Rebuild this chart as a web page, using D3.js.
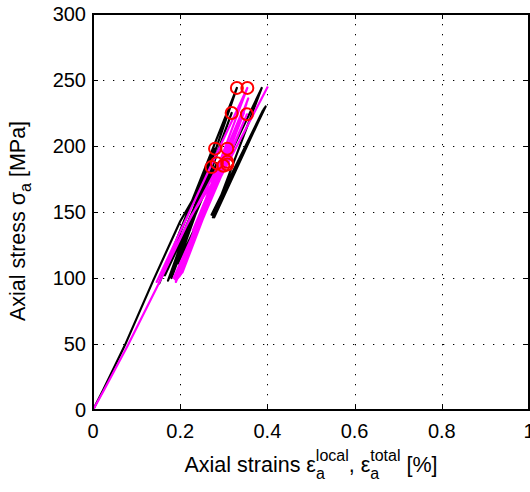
<!DOCTYPE html>
<html>
<head>
<meta charset="utf-8">
<script src="https://cdnjs.cloudflare.com/ajax/libs/d3/7.8.5/d3.min.js"></script>
<style>
  body { margin: 0; background: #fff; }
  svg text { font-family: "Liberation Sans", Arial, Helvetica, sans-serif; }
</style>
</head>
<body>
<div id="chart"></div>
<script>
// local strain path (black): initial loading then unload/reload cycles
const localStrain = [0, 0.023, 0.073, 0.138, 0.2, 0.272,
  0.165, 0.284, 0.172, 0.280, 0.152, 0.330,
  0.18, 0.318, 0.195, 0.387,
  0.275, 0.394, 0.278, 0.390, 0.272, 0.392, 0.280, 0.396, 0.276, 0.393];
const localStress = [0, 15, 49, 98, 143, 184,
  102, 187, 98, 198, 96, 244,
  100, 225, 111, 244,
  146, 229, 146, 227, 148, 228, 150, 230, 147, 228];

// total strain path (magenta)
const totalStrain = [0, 0.025, 0.080, 0.154, 0.225, 0.299,
  0.185, 0.308, 0.190, 0.308, 0.146, 0.354,
  0.190, 0.353, 0.195, 0.350, 0.200, 0.345, 0.192, 0.352, 0.198, 0.348, 0.205, 0.340,
  0.210, 0.336, 0.188, 0.346, 0.202, 0.356, 0.215, 0.342,
  0.229, 0.401];
const totalStress = [0, 15, 49, 98, 147, 185,
  100, 188, 97, 198, 97, 244,
  99, 224, 100, 230, 102, 226, 100, 232, 101, 228, 104, 222,
  110, 218, 99, 225, 103, 236, 115, 226,
  136, 245];

// peak points marked with red circles
const peakStrain = [0.272, 0.299, 0.284, 0.308, 0.280, 0.308, 0.318, 0.353, 0.330, 0.354, 0.308];
const peakStress = [184, 185, 187, 188, 198, 198, 225, 224, 244, 244, 186];

const xTicks = [0, 0.2, 0.4, 0.6, 0.8, 1];
const yTicks = [0, 50, 100, 150, 200, 250, 300];

const width = 530, height = 492;
const margin = {left: 93, right: 1, top: 14, bottom: 82};

const svg = d3.select('#chart').append('svg')
  .attr('width', width)
  .attr('height', height);

const x = d3.scaleLinear().domain([0, 1]).range([margin.left, width - margin.right]);
const y = d3.scaleLinear().domain([0, 300]).range([height - margin.bottom, margin.top]);

// grid
const grid = svg.append('g')
  .attr('stroke', '#000')
  .attr('stroke-width', 1)
  .attr('stroke-dasharray', '1.3,8.7');

grid.selectAll('.gx')
  .data(xTicks.slice(1, -1))
  .enter().append('line')
  .attr('x1', d => Math.round(x(d)) + 0.5).attr('x2', d => Math.round(x(d)) + 0.5)
  .attr('y1', y(300)).attr('y2', y(0));

grid.selectAll('.gy')
  .data(yTicks.slice(1, -1))
  .enter().append('line')
  .attr('y1', d => Math.round(y(d)) + 0.5).attr('y2', d => Math.round(y(d)) + 0.5)
  .attr('x1', x(0)).attr('x2', x(1));

// data lines
const line = d3.line()
  .x(d => x(d[0]))
  .y(d => y(d[1]));

const localPts = localStrain.map((v, i) => [v, localStress[i]]);
const totalPts = totalStrain.map((v, i) => [v, totalStress[i]]);

svg.append('path')
  .datum(localPts)
  .attr('fill', 'none')
  .attr('stroke', '#000')
  .attr('stroke-width', 2.2)
  .attr('stroke-linejoin', 'round')
  .attr('d', line);

svg.append('path')
  .datum(totalPts)
  .attr('fill', 'none')
  .attr('stroke', '#ff00ff')
  .attr('stroke-width', 2.2)
  .attr('stroke-linejoin', 'round')
  .attr('d', line);

svg.selectAll('.peak')
  .data(peakStrain.map((v, i) => [v, peakStress[i]]))
  .enter().append('circle')
  .attr('cx', d => x(d[0]))
  .attr('cy', d => y(d[1]))
  .attr('r', 6)
  .attr('fill', 'none')
  .attr('stroke', '#ff0000')
  .attr('stroke-width', 2);

// axes box with inside ticks
const tickLen = 5;
const axes = svg.append('g').attr('stroke', '#000').attr('stroke-width', 1);

axes.selectAll('.tx')
  .data(xTicks)
  .enter().append('path')
  .attr('d', d => {
    const px = Math.round(x(d)) + 0.5;
    return 'M' + px + ',' + y(0) + 'v' + (-tickLen) + 'M' + px + ',' + y(300) + 'v' + tickLen;
  });

axes.selectAll('.ty')
  .data(yTicks)
  .enter().append('path')
  .attr('d', d => {
    const py = Math.round(y(d)) + 0.5;
    return 'M' + x(0) + ',' + py + 'h' + tickLen + 'M' + x(1) + ',' + py + 'h' + (-tickLen);
  });

svg.append('rect')
  .attr('x', x(0))
  .attr('y', y(300))
  .attr('width', x(1) - x(0))
  .attr('height', y(0) - y(300))
  .attr('fill', 'none')
  .attr('stroke', '#000')
  .attr('stroke-width', 2);

// tick labels
svg.selectAll('.xl')
  .data(xTicks)
  .enter().append('text')
  .attr('x', d => x(d))
  .attr('y', 438)
  .attr('text-anchor', 'middle')
  .attr('font-size', 20)
  .text(d => d3.format('~g')(d));

svg.selectAll('.yl')
  .data(yTicks)
  .enter().append('text')
  .attr('x', 86)
  .attr('y', d => y(d) + 7)
  .attr('text-anchor', 'end')
  .attr('font-size', 20)
  .text(d => d);

// axis labels
const xl = svg.append('text')
  .attr('x', 311)
  .attr('y', 472)
  .attr('text-anchor', 'middle')
  .attr('font-size', 21.5);
xl.append('tspan').text('Axial strains \u03b5');
xl.append('tspan').attr('font-size', 16).attr('dy', 7).text('a');
xl.append('tspan').attr('font-size', 16).attr('dx', -9).attr('dy', -18).text('local');
xl.append('tspan').attr('dy', 11).text(', \u03b5');
xl.append('tspan').attr('font-size', 16).attr('dy', 7).text('a');
xl.append('tspan').attr('font-size', 16).attr('dx', -9).attr('dy', -18).text('total');
xl.append('tspan').attr('dy', 11).text(' [%]');

const yl = svg.append('text')
  .attr('transform', 'translate(25,' + 221 + ') rotate(-90)')
  .attr('text-anchor', 'middle')
  .attr('font-size', 21.5);
yl.append('tspan').text('Axial stress \u03c3');
yl.append('tspan').attr('font-size', 16).attr('dy', 6).text('a');
yl.append('tspan').attr('dy', -6).text(' [MPa]');
</script>
</body>
</html>
